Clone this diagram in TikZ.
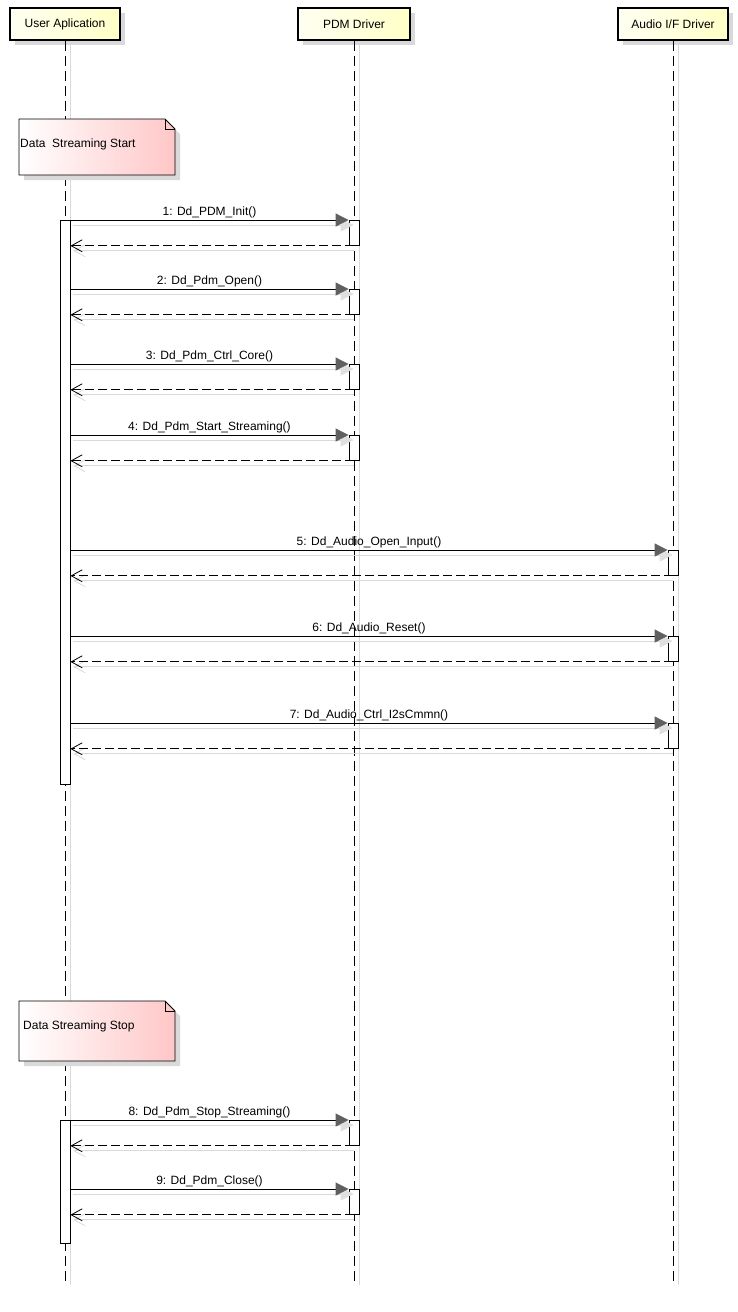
\documentclass[tikz,border=0pt]{standalone}
\usepackage{fontspec}
\setmainfont{Liberation Sans}
\usetikzlibrary{arrows.meta,shadows}

\begin{document}
\begin{tikzpicture}[x=1pt, y=-1pt,
    every node/.style={font=\fontsize{12}{14}\selectfont},
    actor/.style={draw, line width=1.5pt, left color=yellow!5, right color=yellow!22,
                  minimum height=32pt, inner sep=0pt,
                  drop shadow={shadow xshift=5pt, shadow yshift=-5pt, fill=gray!30, opacity=1}},
    lifeline/.style={line width=0.8pt, dash pattern=on 10pt off 5pt},
    shade/.style={gray!30, line width=0.8pt},
    act/.style={draw, fill=white, line width=0.8pt, minimum width=10pt, inner sep=0pt},
    call/.style={line width=0.8pt, -{Triangle[length=13pt, width=13pt, fill=gray!75!black, color=gray!75!black]}},
    ret/.style={line width=0.8pt, dash pattern=on 9pt off 4pt, -{Straight Barb[length=11pt, width=12pt]}},
    notebox/.style={draw, line width=0.8pt, left color=white, right color=red!22}]

  \useasboundingbox (0,0) rectangle (738,1312);

  % participants
  \node[actor, minimum width=110pt] (ua) at (65,24) {User Aplication};
  \node[actor, minimum width=112pt] (pdm) at (354,24) {PDM Driver};
  \node[actor, minimum width=110pt] (aud) at (673,24) {Audio I/F Driver};

  % lifelines
  \foreach \p in {ua,pdm,aud} {
    \coordinate (\p end) at (\p |- 0,1285);
    \draw[shade] ([shift={(5,0)}]\p.south) -- ([shift={(5,0)}]\p end);
    \draw[lifeline] (\p.south) -- (\p end);
  }

  % notes
  \fill[gray!30, shift={(5,5)}] (19,119) -- (165,119) -- (175,129) -- (175,175) -- (19,175) -- cycle;
  \draw[notebox] (19,119) -- (165,119) -- (175,129) -- (175,175) -- (19,175) -- cycle;
  \draw[line width=0.8pt] (165,119) -- (165,129) -- (175,129);
  \node[anchor=west, inner sep=1pt] (start) at (19,144) {Data\ \ Streaming Start};

  \fill[gray!30, shift={(5,5)}] (19,1001) -- (165,1001) -- (175,1011) -- (175,1061) -- (19,1061) -- cycle;
  \draw[notebox] (19,1001) -- (165,1001) -- (175,1011) -- (175,1061) -- (19,1061) -- cycle;
  \draw[line width=0.8pt] (165,1001) -- (165,1011) -- (175,1011);
  \node[anchor=west, inner sep=1pt] (stop) at (22,1026) {Data Streaming Stop};

  % activations of the user
  \node[act, minimum height=564pt, anchor=north] (ua1) at (65,220) {};
  \node[act, minimum height=123pt, anchor=north] (ua2) at (65,1120) {};

  % messages
  \foreach \n/\tx/\y/\lab in {
      1/354/220/{1: Dd\_PDM\_Init()},
      2/354/289/{2: Dd\_Pdm\_Open()},
      3/354/364/{3: Dd\_Pdm\_Ctrl\_Core()},
      4/354/435/{4: Dd\_Pdm\_Start\_Streaming()},
      5/673/550/{5: Dd\_Audio\_Open\_Input()},
      6/673/636/{6: Dd\_Audio\_Reset()},
      7/673/723/{7: Dd\_Audio\_Ctrl\_I2sCmmn()},
      8/354/1120/{8: Dd\_Pdm\_Stop\_Streaming()},
      9/354/1189/{9: Dd\_Pdm\_Close()}} {
    \node[act, minimum height=25pt, anchor=north] (m\n) at (\tx,\y) {};
    \draw[shade, -{Triangle[length=13pt, width=13pt, fill=gray!25, color=gray!25]}]
      ([shift={(3,5)}]m\n.north west -| ua1.east) -- ([shift={(5,5)}]m\n.north west);
    \draw[call] (m\n.north west -| ua1.east) -- (m\n.north west)
      node[midway, above, inner sep=1.5pt] (l\n) {\lab};
    \draw[shade, -{Straight Barb[length=11pt, width=12pt]}]
      ([shift={(0,5)}]m\n.south) -- ([shift={(3,5)}]m\n.south -| ua1.east);
    \draw[ret] (m\n.south) -- (m\n.south -| ua1.east);
  }
\end{tikzpicture}
\end{document}
